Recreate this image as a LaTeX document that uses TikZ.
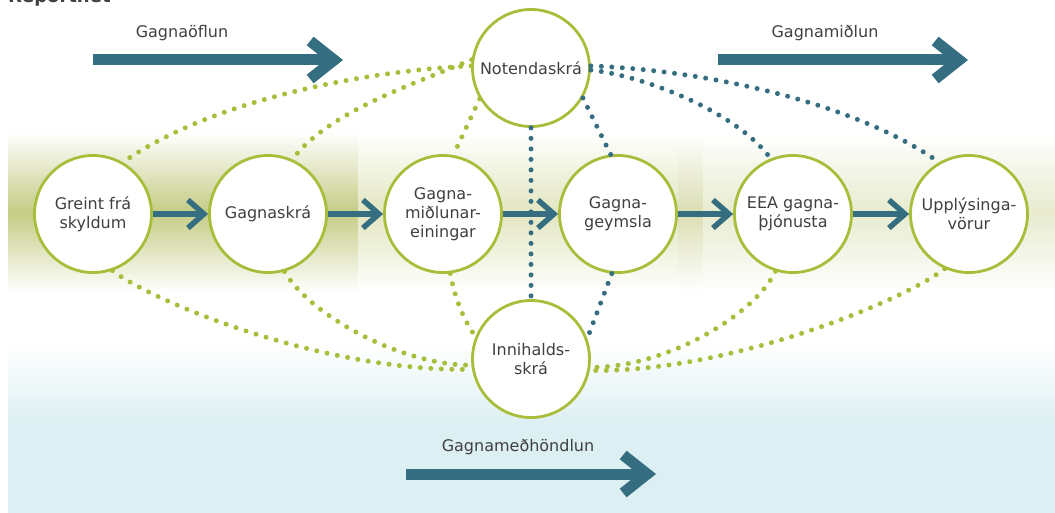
\documentclass[tikz,border=0pt]{standalone}
\usepackage{fontspec}
\setmainfont{DejaVu Sans}
\usetikzlibrary{arrows.meta}
\definecolor{grn}{RGB}{168,189,58}
\definecolor{dkteal}{RGB}{53,110,128}
\definecolor{txt}{RGB}{64,64,64}
\definecolor{bandL}{RGB}{197,204,133}
\definecolor{bandM}{RGB}{226,230,192}
\definecolor{bandS}{RGB}{218,222,178}
\definecolor{bandR}{RGB}{232,235,207}
\definecolor{bluebg}{RGB}{220,239,242}
\newcommand\lblfont{\fontsize{16}{19}\selectfont}
\begin{document}
\begin{tikzpicture}[x=1pt,y=-1pt,
  circ/.style={circle, draw=grn, line width=2.8pt, fill=white, minimum size=117pt, inner sep=0pt, align=center, font=\lblfont, text=txt},
  flow/.style={draw=dkteal, line width=5.5pt, -{Straight Barb[length=16pt,width=28pt]}},
  big/.style={draw=dkteal, line width=11pt, -{Straight Barb[length=24pt,width=38pt]}},
  gdots/.style={draw=grn, line width=5pt, line cap=round, dash pattern=on 0pt off 10.5pt},
  tdots/.style={gdots, draw=dkteal},
  lab/.style={font=\lblfont, text=txt, inner sep=0pt}
]
\useasboundingbox (0,0) rectangle (1055,513);
\clip (0,0) rectangle (1055,513);
% backgrounds
\shade[top color=white, bottom color=white, middle color=bandL] (8,132) rectangle (358,292);
\shade[top color=white, bottom color=white, middle color=bandM] (358,132) rectangle (678,292);
\shade[top color=white, bottom color=white, middle color=bandS] (678,132) rectangle (703,292);
\shade[top color=white, bottom color=white, middle color=bandR] (703,132) rectangle (1055,292);
\shade[top color=white, bottom color=bluebg] (8,345) rectangle (1055,425);
\fill[bluebg] (8,425) rectangle (1055,513);
% title
\node[anchor=base west, font=\fontsize{18}{18}\selectfont\bfseries, text=txt, inner sep=0pt] (title) at (8,3) {Reportnet};
% big arrows
\coordinate (a1s) at (93,60); \coordinate (a1e) at (343,60);
\coordinate (a2s) at (718,60); \coordinate (a2e) at (968,60);
\coordinate (a3s) at (406,474); \coordinate (a3e) at (656,474);
\draw[big] (a1s) -- (a1e);
\draw[big] (a2s) -- (a2e);
\draw[big] (a3s) -- (a3e);
\node[lab] (l1) at (182,33) {Gagnaöflun};
\node[lab] (l2) at (825,33) {Gagnamiðlun};
\node[lab] (l3) at (518,447) {Gagnameðhöndlun};
% circles
\node[circ] (g) at (93,214) {Greint frá\\skyldum};
\node[circ] (s) at (268,214) {Gagnaskrá};
\node[circ] (m) at (443,214) {Gagna-\\miðlunar-\\einingar};
\node[circ] (y) at (618,214) {Gagna-\\geymsla};
\node[circ] (e) at (793,214) {EEA gagna-\\þjónusta};
\node[circ] (u) at (969,214) {Upplýsinga-\\vörur};
\node[circ] (n) at (531,68) {Notendaskrá};
\node[circ] (i) at (531,359) {Innihalds-\\skrá};
% flows
\draw[flow] (g) -- (s);
\draw[flow] (s) -- (m);
\draw[flow] (m) -- (y);
\draw[flow] (y) -- (e);
\draw[flow] (e) -- (u);
% dotted links top
\draw[gdots] (n.178) .. controls (380,70) and (220,95) .. (g.60);
\draw[gdots] (n.172) .. controls (420,82) and (330,110) .. (s.66);
\draw[gdots] (n.211) -- (m.80);
\draw[tdots] (n.south) -- (i.north);
\draw[tdots] (n.-30) -- (y.97);
\draw[tdots] (n.-2) .. controls (640,75) and (735,110) .. (e.112);
\draw[tdots] (n.2) .. controls (700,70) and (850,100) .. (u.120);
% dotted links bottom
\draw[gdots] (g.-71) .. controls (150,300) and (320,372) .. (i.190);
\draw[gdots] (s.-74) .. controls (310,315) and (400,365) .. (i.186);
\draw[gdots] (m.-83) .. controls (455,300) and (465,322) .. (i.158);
\draw[tdots] (y.-96) -- (i.20);
\draw[gdots] (e.-107) .. controls (755,315) and (665,368) .. (i.-8);
\draw[gdots] (u.-114) .. controls (905,300) and (730,373) .. (i.-11);
\end{tikzpicture}
\end{document}
